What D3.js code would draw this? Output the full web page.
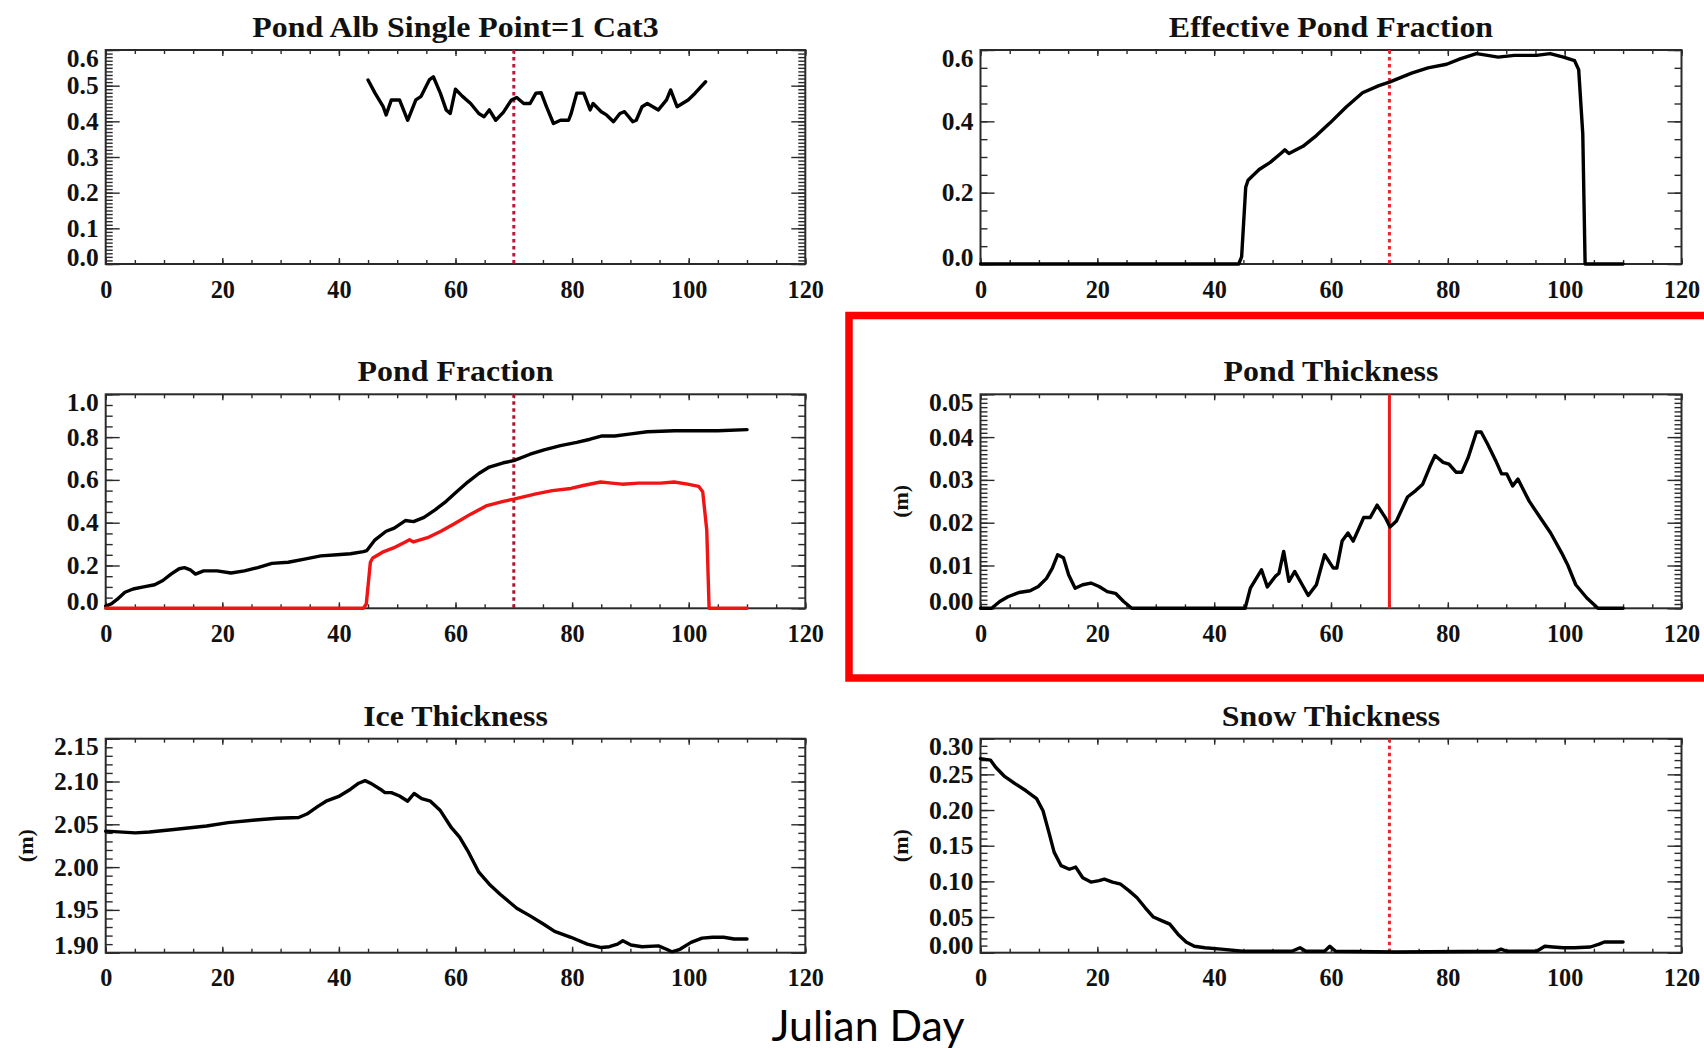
<!DOCTYPE html>
<html><head><meta charset="utf-8">
<script src="https://cdn.jsdelivr.net/npm/d3@7"></script>
<style>
body{margin:0;background:#fff;}
svg{display:block;background:#fff;}
</style></head><body>
<svg id="chart" width="1704" height="1048"></svg>
<script>
// ---------- tick labels ----------
const xTicks=[0,20,40,60,80,100,120];
const albTicks=[0,0.1,0.2,0.3,0.4,0.5,0.6];
const effTicks=[0,0.2,0.4,0.6];
const fracTicks=[0,0.2,0.4,0.6,0.8,1.0];
const pondTicks=[0,0.01,0.02,0.03,0.04,0.05];
const iceTicks=[1.90,1.95,2.00,2.05,2.10,2.15];
const snowTicks=[0,0.05,0.10,0.15,0.20,0.25,0.30];
const markerDay=70;
const titles=["Pond Alb Single Point=1 Cat3","Effective Pond Fraction","Pond Fraction","Pond Thickness","Ice Thickness","Snow Thickness"];
const xLabel="Julian Day";
const unitLabel="(m)";

// ---------- series values [day, value] ----------
const pondAlbedo=[[45,0.516],[46.2,0.479],[47.6,0.441],[48.1,0.418],[49,0.46],[50.4,0.46],[51.8,0.403],[53.2,0.46],[54.1,0.47],[55.5,0.516],[56.2,0.525],[57.4,0.479],[58.4,0.432],[59.1,0.422],[60,0.49],[61.2,0.47],[62.6,0.45],[64,0.422],[64.9,0.413],[65.8,0.432],[66.9,0.403],[68.2,0.425],[69.6,0.46],[70.5,0.467],[71.7,0.45],[72.8,0.45],[73.8,0.479],[74.7,0.48],[75.6,0.441],[76.8,0.394],[78,0.403],[79.4,0.403],[79.8,0.42],[80.8,0.479],[82,0.479],[83.1,0.432],[83.6,0.45],[85,0.427],[85.9,0.418],[87.1,0.399],[88.2,0.422],[89,0.427],[90.4,0.399],[91,0.403],[92,0.441],[92.9,0.45],[94.8,0.432],[96.2,0.46],[96.9,0.488],[98,0.441],[99.9,0.46],[101.1,0.479],[102.9,0.511]];

const effPondFraction=[[0,0],[44.2,0],[44.7,0.02],[45.4,0.215],[45.8,0.235],[47.7,0.265],[49.6,0.285],[51.4,0.31],[52.1,0.32],[52.8,0.31],[55.2,0.33],[57.5,0.36],[59.8,0.395],[62.6,0.44],[65.4,0.48],[68.2,0.5],[70,0.51],[73.8,0.535],[76.6,0.55],[79.8,0.56],[82.1,0.575],[84.9,0.59],[86.8,0.585],[88.6,0.58],[91.4,0.585],[95.2,0.585],[97.5,0.59],[99.8,0.58],[101.7,0.57],[102.4,0.545],[103.1,0.365],[103.5,0],[110,0]];

const pondFraction=[[0,0.01],[0.9,0.02],[1.9,0.04],[3.3,0.075],[4.7,0.09],[6.5,0.1],[8.4,0.11],[9.8,0.13],[11.2,0.16],[12.6,0.185],[13.5,0.19],[14.5,0.18],[15.4,0.16],[16.8,0.175],[19.1,0.175],[21.5,0.165],[23.8,0.175],[26.1,0.19],[28.5,0.21],[31.3,0.215],[34.1,0.23],[36.9,0.245],[39.7,0.25],[42,0.255],[44.2,0.265],[44.8,0.27],[46.2,0.32],[48.1,0.36],[49.5,0.375],[51.4,0.41],[52.8,0.405],[54.6,0.425],[56.5,0.46],[58.4,0.5],[60.2,0.545],[62.1,0.59],[64,0.63],[65.8,0.66],[68.2,0.68],[70,0.69],[72.8,0.72],[75.2,0.74],[78,0.76],[80.8,0.775],[83.1,0.79],[85,0.805],[87.3,0.805],[90.1,0.815],[92.9,0.825],[97.6,0.83],[101.3,0.83],[105,0.83],[110,0.835]];

const pondThickness=[[0,0],[1.9,0],[3.3,0.0016],[4.7,0.0027],[6.6,0.0037],[8.5,0.0041],[9.9,0.0051],[11.3,0.007],[12.3,0.0094],[13.2,0.0125],[14.2,0.0118],[15.1,0.0078],[16.2,0.0047],[17.5,0.0055],[18.9,0.0059],[20.3,0.0051],[21.7,0.0039],[23.1,0.0035],[24.5,0.0016],[25.9,0],[45.3,0],[46.2,0.0047],[48.1,0.009],[49.1,0.005],[50.5,0.0075],[51.1,0.0082],[51.9,0.0133],[52.8,0.0063],[53.8,0.0086],[56.1,0.003],[57.5,0.0055],[58.9,0.0125],[60.4,0.0094],[61,0.0094],[61.9,0.0157],[62.9,0.0176],[63.8,0.0157],[65.6,0.0212],[66.7,0.0212],[67.9,0.0241],[69.3,0.0212],[70.1,0.019],[71.2,0.0204],[73.1,0.026],[74.5,0.0275],[75.7,0.029],[76.9,0.033],[77.8,0.0357],[79.2,0.0341],[80.2,0.0337],[81.4,0.0318],[82.4,0.0318],[83.5,0.0353],[84.9,0.0412],[85.7,0.0412],[86.8,0.0384],[88.2,0.0345],[89.2,0.0314],[90.1,0.0314],[91.1,0.0286],[92,0.0302],[93.9,0.0251],[95.8,0.0212],[97.6,0.0176],[99.5,0.0129],[100.5,0.0102],[101.9,0.0055],[103.8,0.0024],[105.7,0],[110,0]];

const iceThickness=[[0,2.042],[5.1,2.040],[7.5,2.041],[11.7,2.044],[17.3,2.048],[21,2.052],[25.7,2.055],[29.4,2.057],[33.1,2.058],[34.5,2.062],[36.4,2.071],[37.8,2.077],[40.1,2.083],[42,2.091],[43.4,2.098],[44.5,2.101],[45.7,2.097],[47.1,2.091],[47.9,2.087],[49,2.087],[50.4,2.083],[51.8,2.077],[52.9,2.086],[54.2,2.080],[55.7,2.077],[57.4,2.066],[59.3,2.046],[60.7,2.035],[62.1,2.019],[64,1.994],[65.8,1.980],[67.7,1.968],[70.5,1.952],[72.8,1.943],[75.2,1.933],[77,1.925],[79.8,1.918],[82.6,1.910],[85,1.906],[86.4,1.907],[87.8,1.910],[88.7,1.914],[90.1,1.909],[92,1.907],[94.8,1.908],[96.2,1.904],[97.1,1.901],[98.5,1.904],[100.4,1.912],[102.3,1.917],[104.1,1.918],[106,1.918],[107.8,1.916],[110,1.916]];

const snowThickness=[[0,0.272],[1.7,0.27],[2.6,0.26],[4,0.248],[5.9,0.237],[7.8,0.227],[9.6,0.216],[10.7,0.199],[11.7,0.169],[12.6,0.141],[13.8,0.122],[15.2,0.117],[16.3,0.12],[17.5,0.105],[18.9,0.099],[20.3,0.101],[21.2,0.103],[22.6,0.099],[24,0.096],[25.4,0.087],[26.8,0.077],[28.2,0.063],[29.6,0.05],[31,0.045],[32.4,0.04],[33.8,0.026],[35.2,0.015],[36.6,0.009],[38.4,0.007],[41.2,0.005],[44.9,0.002],[48.7,0.002],[53.3,0.002],[54.7,0.007],[55.7,0.002],[58.9,0.002],[59.8,0.009],[60.8,0.002],[71,0.001],[88.2,0.002],[89.1,0.005],[90.1,0.002],[95.2,0.002],[96.6,0.009],[98,0.008],[99.8,0.007],[101.7,0.007],[104.4,0.008],[105.9,0.012],[106.8,0.015],[110,0.015]];

// ---------- layout ----------
const svg=d3.select("#chart");
const SERIF='"Liberation Serif","Times New Roman",serif';
const colX=[[105.7,805.3],[980.5,1681.5]];
const rowY=[50,394.3,738.7];
const PH=214;

const panels=[
  {t:0,col:0,row:0,ticks:albTicks,minor:0.01,fmt:".1f",series:[{d:pondAlbedo,c:"#000"}],vline:"dot",vc:"#c0163a"},
  {t:1,col:1,row:0,ticks:effTicks,minor:0.05,fmt:".1f",series:[{d:effPondFraction,c:"#000"}],vline:"dot",vc:"#e8262d"},
  {t:2,col:0,row:1,ticks:fracTicks,minor:0.05,fmt:".1f",series:[{d:pondFraction,c:"#000"},{d:effPondFraction,c:"#f01414"}],vline:"dot",vc:"#b0142e"},
  {t:3,col:1,row:1,ticks:pondTicks,minor:0.001,fmt:".2f",series:[{d:pondThickness,c:"#000"}],vline:"solid",vc:"#ee1c1c",unit:true},
  {t:4,col:0,row:2,ticks:iceTicks,minor:0.01,fmt:".2f",series:[{d:iceThickness,c:"#000"}],vline:null,unit:true},
  {t:5,col:1,row:2,ticks:snowTicks,minor:0.01,fmt:".2f",series:[{d:snowThickness,c:"#000"}],vline:"dot",vc:"#e8262d",unit:true}
];

function stretch(sel,f){
  sel.each(function(){
    const w=this.getComputedTextLength();
    this.setAttribute("textLength",w*f);
    this.setAttribute("lengthAdjust","spacingAndGlyphs");
  });
}

panels.forEach(p=>{
  const [x0,x1]=colX[p.col];
  const y0=rowY[p.row], y1=y0+PH;
  const lo=p.ticks[0], hi=p.ticks[p.ticks.length-1];
  const x=d3.scaleLinear().domain([xTicks[0],xTicks[xTicks.length-1]]).range([x0,x1]);
  const y=d3.scaleLinear().domain([lo,hi]).range([y1,y0]);
  const g=svg.append("g");

  const nMin=Math.round((hi-lo)/p.minor);
  const yMinor=d3.range(nMin+1).map(i=>lo+i*p.minor);
  const xMinor=d3.range(0,121,5);

  function styleAxis(a){
    a.select(".domain").remove();
    a.selectAll(".tick line").attr("stroke","#2a2a2a").attr("stroke-width",1.4);
  }
  // minor ticks
  g.append("g").attr("transform",`translate(0,${y1})`).call(d3.axisBottom(x).tickValues(xMinor).tickSize(-4).tickFormat("")).call(styleAxis);
  g.append("g").attr("transform",`translate(0,${y0})`).call(d3.axisTop(x).tickValues(xMinor).tickSize(-4).tickFormat("")).call(styleAxis);
  g.append("g").attr("transform",`translate(${x0},0)`).call(d3.axisLeft(y).tickValues(yMinor).tickSize(-7).tickFormat("")).call(styleAxis);
  g.append("g").attr("transform",`translate(${x1},0)`).call(d3.axisRight(y).tickValues(yMinor).tickSize(-7).tickFormat("")).call(styleAxis);
  // major ticks
  const xb=g.append("g").attr("transform",`translate(0,${y1})`).call(d3.axisBottom(x).tickValues(xTicks).tickSize(-6).tickPadding(16).tickFormat(d3.format("d"))).call(styleAxis);
  g.append("g").attr("transform",`translate(0,${y0})`).call(d3.axisTop(x).tickValues(xTicks).tickSize(-6).tickFormat("")).call(styleAxis);
  const yl=g.append("g").attr("transform",`translate(${x0},0)`).call(d3.axisLeft(y).tickValues(p.ticks).tickSize(-14).tickPadding(7).tickFormat(d3.format(p.fmt))).call(styleAxis);
  g.append("g").attr("transform",`translate(${x1},0)`).call(d3.axisRight(y).tickValues(p.ticks).tickSize(-14).tickFormat("")).call(styleAxis);

  [xb,yl].forEach(a=>a.selectAll("text").attr("font-family",SERIF).attr("font-weight","bold").attr("font-size",25).attr("fill","#111"));
  // IDL-style shift of the end labels inward
  const yt=yl.selectAll(".tick text");
  yt.filter(d=>d===lo).attr("dy","0.04em");
  yt.filter(d=>d===hi).attr("dy","0.64em");
  stretch(xb.selectAll("text"),0.97);
  stretch(yt,1.02);

  // frame
  g.append("rect").attr("x",x0).attr("y",y0).attr("width",x1-x0).attr("height",PH)
    .attr("fill","none").attr("stroke","#2a2a2a").attr("stroke-width",2);

  // marker line
  if(p.vline){
    const vl=g.append("line").attr("x1",x(markerDay)).attr("x2",x(markerDay)).attr("y1",y0).attr("y2",y1)
      .attr("stroke",p.vc);
    if(p.vline==="dot") vl.attr("stroke-width",3).attr("stroke-dasharray","3.5,3.5");
    else vl.attr("stroke-width",3);
  }

  // series
  const line=d3.line().x(d=>x(d[0])).y(d=>y(d[1]));
  p.series.forEach(s=>{
    g.append("path").datum(s.d).attr("d",line).attr("fill","none").attr("stroke",s.c)
      .attr("stroke-width",3.4).attr("stroke-linejoin","round").attr("stroke-linecap","round");
  });

  // title
  const tt=g.append("text").attr("x",(x0+x1)/2).attr("y",y0-13).attr("text-anchor","middle")
    .attr("font-family",SERIF).attr("font-weight","bold").attr("font-size",29).attr("fill","#111")
    .text(titles[p.t]);
  stretch(tt,1.1);

  if(p.unit){
    const ux=x0-80, uy=(y0+y1)/2;
    g.append("text").attr("transform",`translate(${ux},${uy}) rotate(-90)`).attr("text-anchor","middle")
      .attr("dy","0.35em").attr("font-family",SERIF).attr("font-weight","bold").attr("font-size",22).attr("fill","#111")
      .text(unitLabel);
  }
});

// highlight box
svg.append("rect").attr("x",849).attr("y",315.5).attr("width",900).attr("height",362.5)
  .attr("fill","none").attr("stroke","#ff0000").attr("stroke-width",7.5);

// common x label
const jl=svg.append("text").attr("x",868).attr("y",1040.5).attr("text-anchor","middle")
  .attr("font-family","Lato, 'Open Sans', sans-serif").attr("font-size",42).attr("fill","#000")
  .text(xLabel);
jl.attr("textLength",193).attr("lengthAdjust","spacingAndGlyphs");
</script>
</body></html>
